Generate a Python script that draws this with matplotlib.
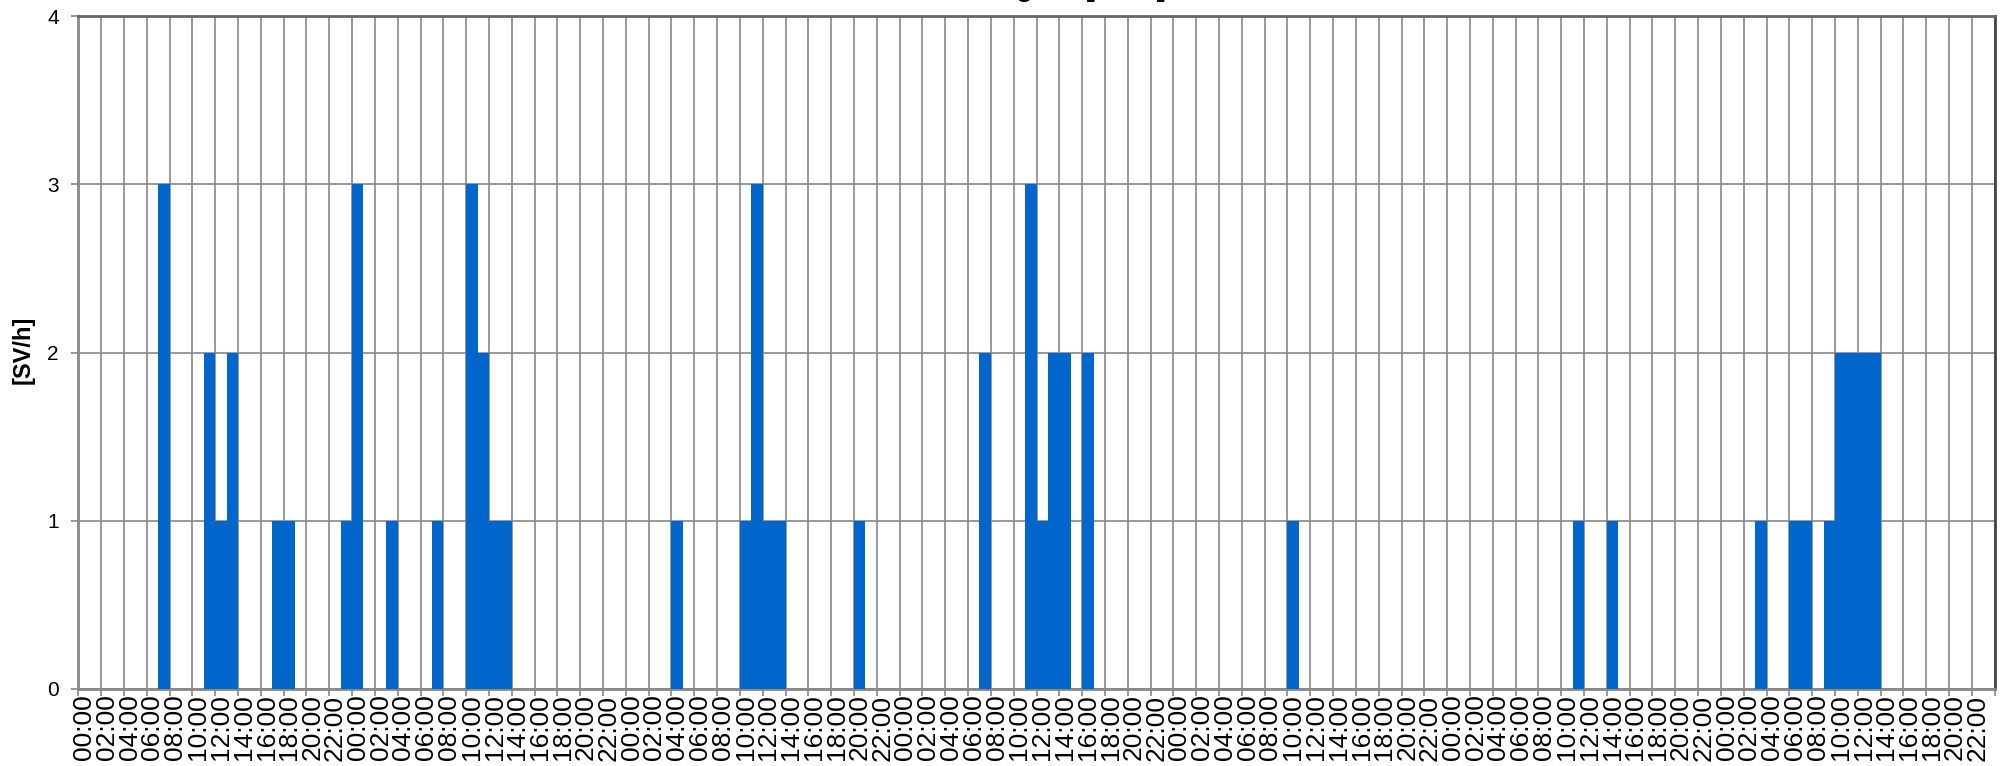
import matplotlib
matplotlib.use("Agg")
import matplotlib.pyplot as plt
import numpy as np

plt.rcParams['font.family'] = ['Liberation Sans', 'DejaVu Sans']

# hourly values for 7 days (24 values each)
day1 = [0, 0, 0, 0, 0, 0, 0, 3, 0, 0, 0, 2, 1, 2, 0, 0, 0, 1, 1, 0, 0, 0, 0, 1]
day2 = [3, 0, 0, 1, 0, 0, 0, 1, 0, 0, 3, 2, 1, 1, 0, 0, 0, 0, 0, 0, 0, 0, 0, 0]
day3 = [0, 0, 0, 0, 1, 0, 0, 0, 0, 0, 1, 3, 1, 1, 0, 0, 0, 0, 0, 0, 1, 0, 0, 0]
day4 = [0, 0, 0, 0, 0, 0, 0, 2, 0, 0, 0, 3, 1, 2, 2, 0, 2, 0, 0, 0, 0, 0, 0, 0]
day5 = [0, 0, 0, 0, 0, 0, 0, 0, 0, 0, 1, 0, 0, 0, 0, 0, 0, 0, 0, 0, 0, 0, 0, 0]
day6 = [0, 0, 0, 0, 0, 0, 0, 0, 0, 0, 0, 1, 0, 0, 1, 0, 0, 0, 0, 0, 0, 0, 0, 0]
day7 = [0, 0, 0, 1, 0, 0, 1, 1, 0, 1, 2, 2, 2, 2, 0, 0, 0, 0, 0, 0, 0, 0, 0, 0]

hours = [f"{h:02d}:00" for h in range(24)]
values = day1 + day2 + day3 + day4 + day5 + day6 + day7
categories = hours * 7

title_text = "Belastung SV [SV/h]"
ylabel_text = "[SV/h]"
yticks = [0, 1, 2, 3, 4]

W, H = 2005, 766
fig = plt.figure(figsize=(W / 100, H / 100), dpi=100)
ax = fig.add_axes([78.3 / W, 77 / H, (1994.7 - 78.3) / W, (689 - 16) / H])

x = np.arange(len(values))
ax.bar(x, values, width=1.0, color='#0066CC', linewidth=0, zorder=3)

ax.set_xlim(-0.5, len(values) - 0.5)
ax.set_ylim(0, 4)
ax.set_yticks(yticks)
ax.set_yticklabels([str(v) for v in yticks], fontsize=15)

# labels every second category, tick marks/gridlines on category boundaries
ax.set_xticks(x[::2])
ax.set_xticklabels(categories[::2], rotation=90, fontsize=19)
ax.tick_params(axis='x', which='major', length=0, pad=4)
ax.set_xticks(np.arange(-0.5, len(values), 2), minor=True)
ax.tick_params(axis='x', which='minor', length=5, width=1.2, color='#888888')
ax.tick_params(axis='y', length=5, width=1.2, color='#888888', pad=9)

ax.grid(True, axis='x', which='minor', color='#888888', linewidth=1.2, zorder=1)
ax.grid(True, axis='y', which='major', color='#888888', linewidth=1.2, zorder=1)
ax.grid(False, axis='x', which='major')
ax.set_axisbelow(True)

for side in ['left', 'bottom', 'top']:
    ax.spines[side].set_color('#888888')
    ax.spines[side].set_linewidth(2)
ax.spines['top'].set_color('#666666')
ax.spines['right'].set_color('#444444')
ax.spines['right'].set_linewidth(2)

fig.text(23 / W, 1 - 350 / H, ylabel_text, rotation=90, ha='center', va='center',
         fontsize=17, fontweight='bold')

fig.text(1166 / W, 1 + 4 / H, title_text, ha='right', va='baseline',
         fontsize=20, fontweight='bold')

fig.savefig('out.png', dpi=100)
